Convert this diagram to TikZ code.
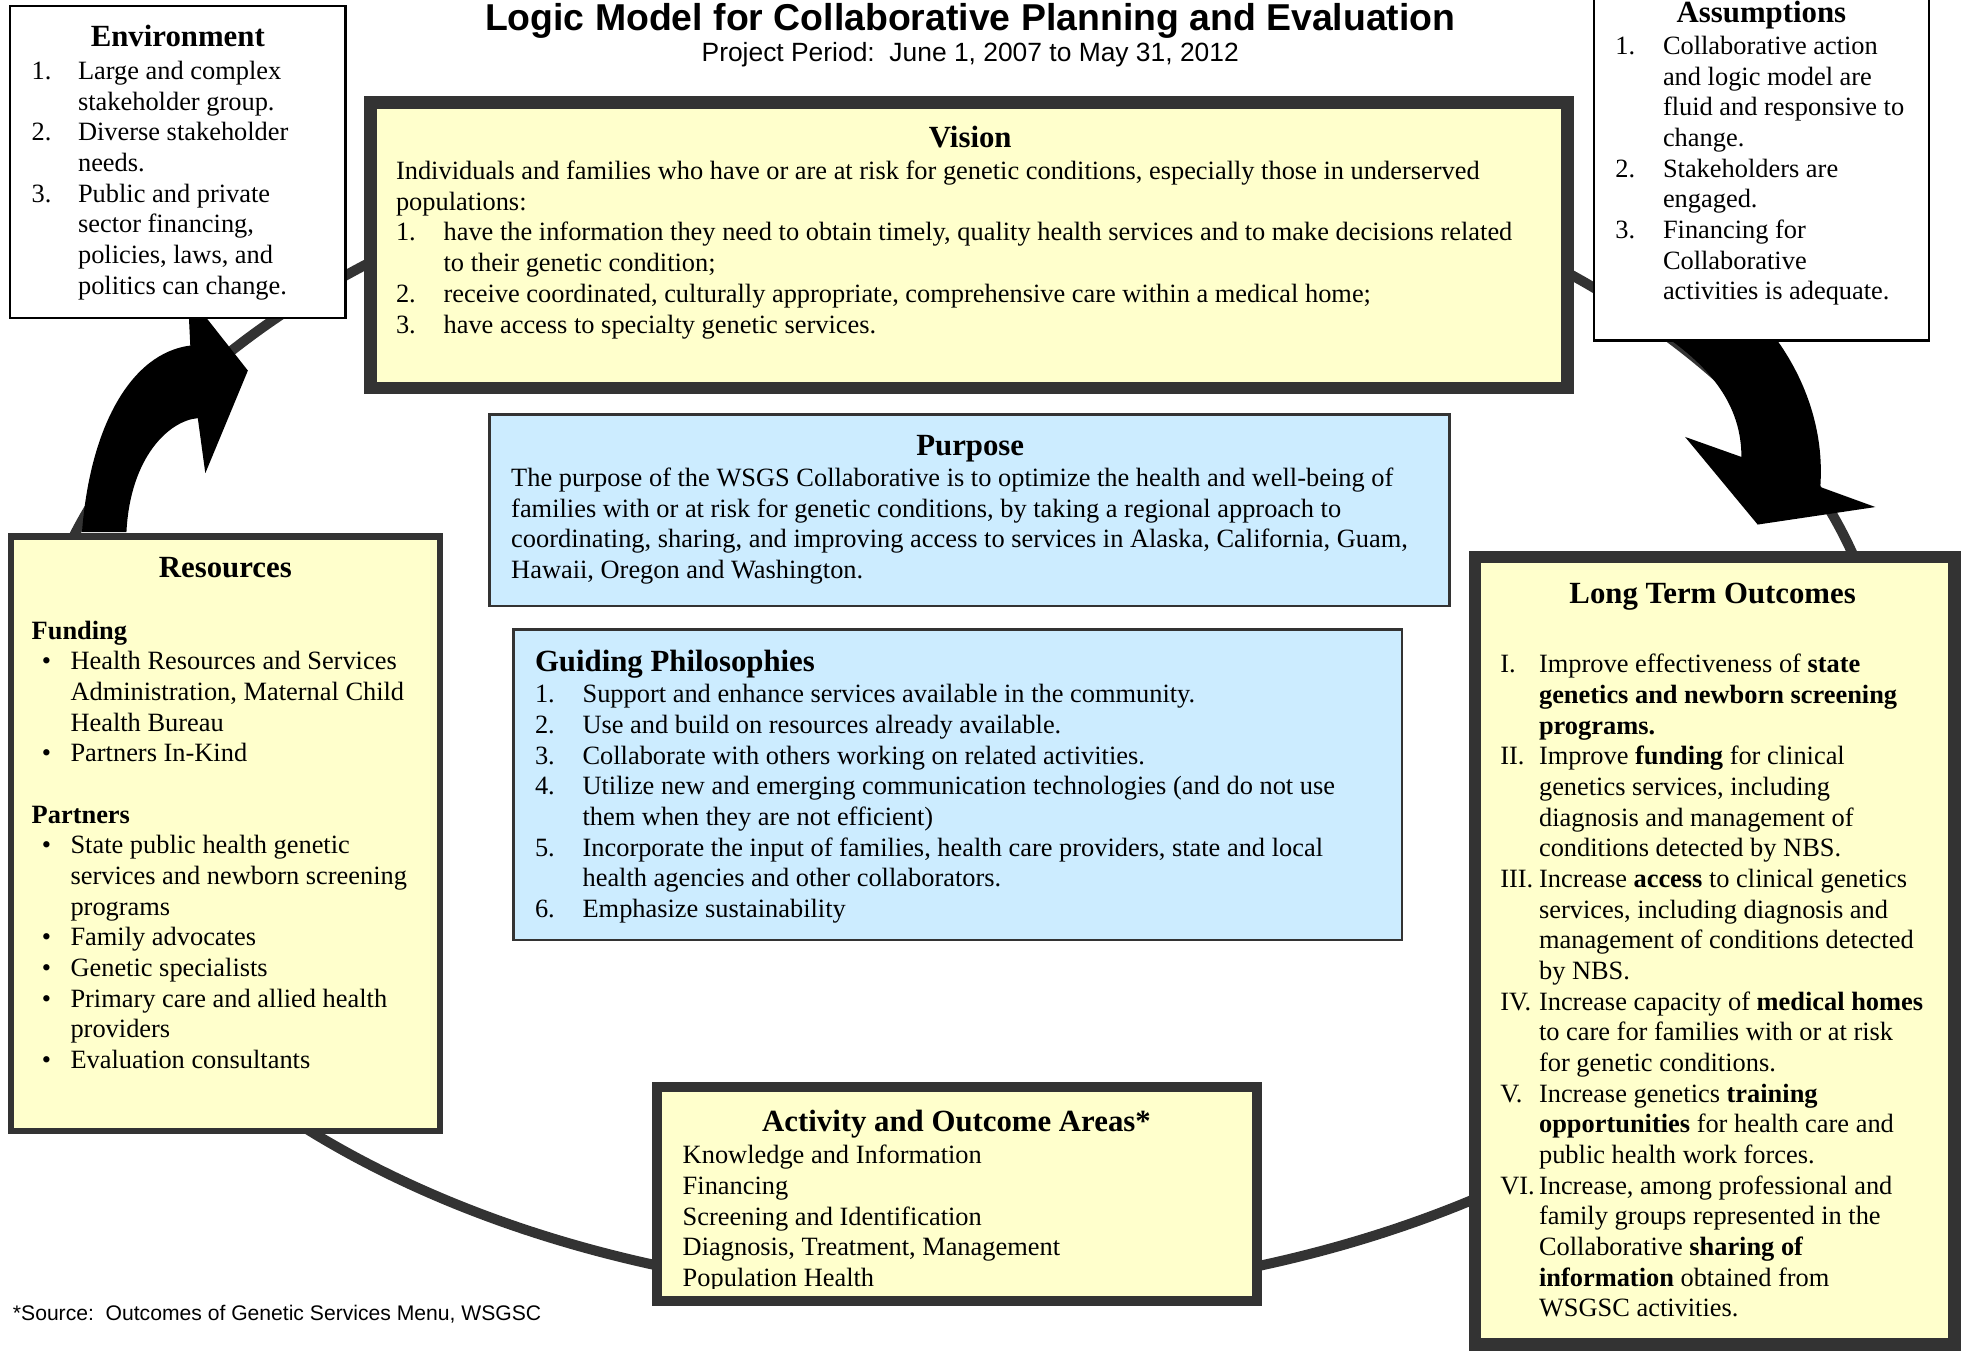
\documentclass[tikz,border=0pt]{standalone}
\usepackage{fontspec}
\setmainfont{Liberation Serif}
\newfontfamily\arialfont{Liberation Sans}
\usetikzlibrary{positioning}
\definecolor{ringgray}{HTML}{333333}
\definecolor{paleyellow}{HTML}{FFFFCC}
\definecolor{paleblue}{HTML}{CCECFF}
\newcommand{\bodysize}{\fontsize{12}{13.94}\selectfont}
\newcommand{\headsize}{\fontsize{14}{16}\selectfont\bfseries}

\begin{document}
\begin{tikzpicture}[x=0.2mm,y=-0.2mm]

 \tikzset{
    boxframe/.style={
      rectangle,
      inner sep=0mm,
      outer sep=0mm,
      line width=#1
    },
    yellowbox/.style={boxframe=#1, draw=ringgray, fill=paleyellow},
    bluebox/.style={boxframe=0.4mm, draw=ringgray, fill=paleblue},
    whitebox/.style={boxframe=0.35mm, draw=black, fill=white},
    heading/.style={inner sep=0mm, font=\headsize, anchor=base},
    listing/.style={inner sep=0mm, font=\bodysize, anchor=base west},
    bigarrow/.style={fill=black}
  }

\useasboundingbox (0,0) rectangle (1568,1079);

% the cycle behind the boxes
\draw[ringgray, line width=1.6mm] (766,570) ellipse [x radius=742, y radius=466];

% curved block arrows
\fill[bigarrow] (65.5,425) .. controls (72,340) and (105,282) .. (152,276)
  -- (150,235) -- (198,296) -- (164,378) -- (158,334)
  .. controls (135,336) and (104,365) .. (101,425) -- cycle;
\fill[bigarrow] (1320,262) .. controls (1368,292) and (1391,325) .. (1391,365)
  -- (1346,349) -- (1404,419) -- (1498,405) -- (1454,389)
  .. controls (1458,335) and (1435,290) .. (1412,262) -- cycle;

% boxes
\node[whitebox, minimum width=53.6mm, minimum height=49.8mm] (env) at (142,129.5) {};
\node[whitebox, minimum width=53.6mm, minimum height=56.8mm] (assum) at (1407,130) {};
\node[yellowbox=2mm, minimum width=191.2mm, minimum height=45.6mm] (vision) at (774,196) {};
\node[bluebox, minimum width=153.4mm, minimum height=30.6mm] (purpose) at (774.5,407.5) {};
\node[bluebox, minimum width=142mm, minimum height=49.6mm] (guiding) at (765,627) {};
\node[yellowbox=1mm, minimum width=68.6mm, minimum height=95mm] (resources) at (180,666) {};
\node[yellowbox=1.6mm, minimum width=95.8mm, minimum height=34.2mm] (activity) at (764.5,953.5) {};
\node[yellowbox=2mm, minimum width=76.6mm, minimum height=125.8mm] (outcomes) at (1369.5,759.5) {};

% titles
\node[anchor=base, inner sep=0mm, font=\arialfont\fontsize{17}{20}\selectfont\bfseries] (maintitle) at (775,24)
  {Logic Model for Collaborative Planning and Evaluation};
\node[anchor=base, inner sep=0mm, font=\arialfont\fontsize{12}{14}\selectfont] (period) at (775,49)
  {Project Period:\ \ June 1, 2007 to May 31, 2012};

\node[heading] (envtitle) at (142,37) {Environment};
\node[heading] (assumtitle) at (1407,18) {Assumptions};
\node[heading] (visiontitle) at (775,118) {Vision};
\node[heading] (purposetitle) at (775,364) {Purpose};
\node[heading, anchor=base west] (guidingtitle) at (427,536) {Guiding Philosophies};
\node[heading] (resourcestitle) at (180,461) {Resources};
\node[heading] (activitytitle) at (764,904) {Activity and Outcome Areas*};
\node[heading] (outcomestitle) at (1368,482) {Long Term Outcomes};

% box texts
\node[listing] (envlist) at (25,63.5) {\begin{tabular}[t]{@{}p{7.4mm}@{}l@{}}
1. & Large and complex\\
   & stakeholder group.\\
2. & Diverse stakeholder\\
   & needs.\\
3. & Public and private\\
   & sector financing,\\
   & policies, laws, and\\
   & politics can change.
\end{tabular}};

\node[listing] (assumlist) at (1290,43.5) {\begin{tabular}[t]{@{}p{7.6mm}@{}l@{}}
1. & Collaborative action\\
   & and logic model are\\
   & fluid and responsive to\\
   & change.\\
2. & Stakeholders are\\
   & engaged.\\
3. & Financing for\\
   & Collaborative\\
   & activities is adequate.
\end{tabular}};

\node[listing] (visionlist) at (316,143.5) {\begin{tabular}[t]{@{}p{7.6mm}@{}l@{}}
\multicolumn{2}{@{}l@{}}{Individuals and families who have or are at risk for genetic conditions, especially those in underserved}\\
\multicolumn{2}{@{}l@{}}{populations:}\\
1. & have the information they need to obtain timely, quality health services and to make decisions related\\
   & to their genetic condition;\\
2. & receive coordinated, culturally appropriate, comprehensive care within a medical home;\\
3. & have access to specialty genetic services.
\end{tabular}};

\node[listing] (purposetext) at (408,388.5) {\begin{tabular}[t]{@{}l@{}}
The purpose of the WSGS Collaborative is to optimize the health and well-being of\\
families with or at risk for genetic conditions, by taking a regional approach to\\
coordinating, sharing, and improving access to services in Alaska, California, Guam,\\
Hawaii, Oregon and Washington.
\end{tabular}};

\node[listing] (guidinglist) at (427,561.5) {\begin{tabular}[t]{@{}p{7.6mm}@{}l@{}}
1. & Support and enhance services available in the community.\\
2. & Use and build on resources already available.\\
3. & Collaborate with others working on related activities.\\
4. & Utilize new and emerging communication technologies (and do not use\\
   & them when they are not efficient)\\
5. & Incorporate the input of families, health care providers, state and local\\
   & health agencies and other collaborators.\\
6. & Emphasize sustainability
\end{tabular}};

\node[listing] (resourceslist) at (25,510.5) {\begin{tabular}[t]{@{}p{6.2mm}@{}l@{}}
\multicolumn{2}{@{}l@{}}{\textbf{Funding}}\\
\hspace{1.6mm}\textbullet & Health Resources and Services\\
   & Administration, Maternal Child\\
   & Health Bureau\\
\hspace{1.6mm}\textbullet & Partners In-Kind\\
   & \\
\multicolumn{2}{@{}l@{}}{\textbf{Partners}}\\
\hspace{1.6mm}\textbullet & State public health genetic\\
   & services and newborn screening\\
   & programs\\
\hspace{1.6mm}\textbullet & Family advocates\\
\hspace{1.6mm}\textbullet & Genetic specialists\\
\hspace{1.6mm}\textbullet & Primary care and allied health\\
   & providers\\
\hspace{1.6mm}\textbullet & Evaluation consultants
\end{tabular}};

% the last line is cut off by the box, as in the original
\begin{scope}
\clip (525,868) rectangle (1004,1029);
\node[listing] (activitylist) at (545,929.5) {\begin{tabular}[t]{@{}l@{}}
Knowledge and Information\\
Financing\\
Screening and Identification\\
Diagnosis, Treatment, Management\\
Population Health
\end{tabular}};
\end{scope}

\node[listing] (outcomeslist) at (1198,537.5) {\begin{tabular}[t]{@{}p{6.2mm}@{}l@{}}
I.   & Improve effectiveness of \textbf{state}\\
     & \textbf{genetics and newborn screening}\\
     & \textbf{programs.}\\
II.  & Improve \textbf{funding} for clinical\\
     & genetics services, including\\
     & diagnosis and management of\\
     & conditions detected by NBS.\\
III. & Increase \textbf{access} to clinical genetics\\
     & services, including diagnosis and\\
     & management of conditions detected\\
     & by NBS.\\
IV.  & Increase capacity of \textbf{medical homes}\\
     & to care for families with or at risk\\
     & for genetic conditions.\\
V.   & Increase genetics \textbf{training}\\
     & \textbf{opportunities} for health care and\\
     & public health work forces.\\
VI.  & Increase, among professional and\\
     & family groups represented in the\\
     & Collaborative \textbf{sharing of}\\
     & \textbf{information} obtained from\\
     & WSGSC activities.
\end{tabular}};

\node[anchor=base west, inner sep=0mm, font=\arialfont\fontsize{9.6}{12}\selectfont] (source) at (10,1055)
  {*Source:\ \ Outcomes of Genetic Services Menu, WSGSC};
\end{tikzpicture}
\end{document}
